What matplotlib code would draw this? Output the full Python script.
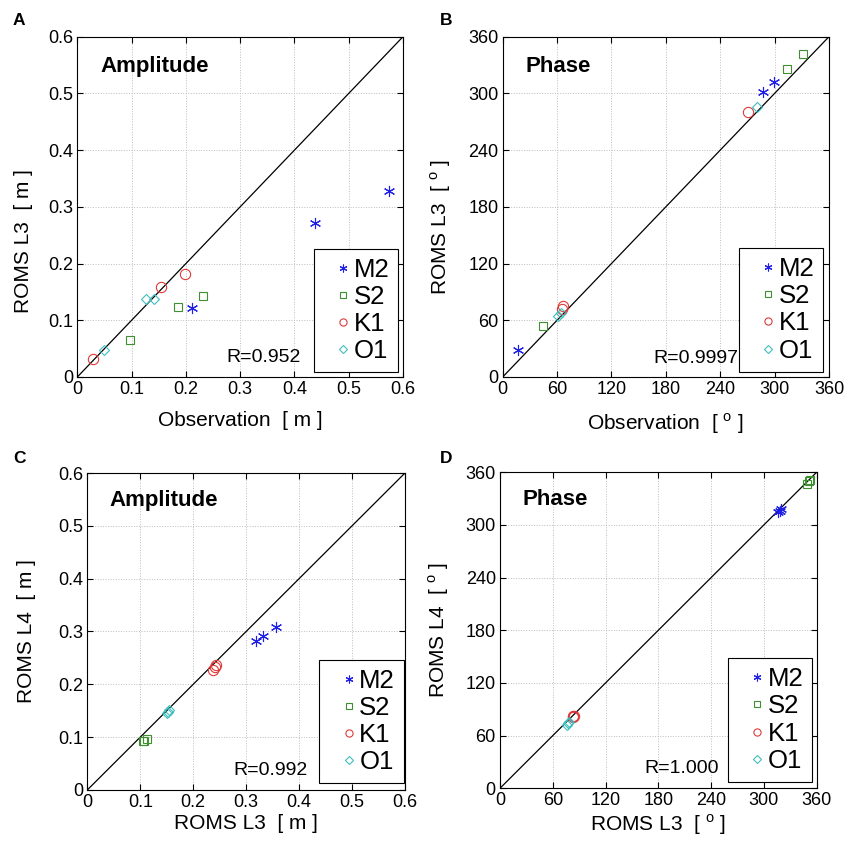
import matplotlib
matplotlib.use("Agg")
import matplotlib.pyplot as plt
from matplotlib.ticker import FixedLocator, FuncFormatter

plt.rcParams['font.family'] = ['Liberation Sans', 'DejaVu Sans']

# constituents and styles
tides = ["M2", "S2", "K1", "O1"]
colors = ["#1f1fe6", "#3d8f2f", "#de3a3a", "#3fbfbf"]
markers = [(6, 2, 0), "s", "o", "D"]
msizes = [8.0, 6.0, 7.4, 5.4]

# Panel A: amplitude, observation vs ROMS L3 [m]
amp_obs = {"M2": [0.574, 0.437, 0.212], "S2": [0.232, 0.185, 0.097],
           "K1": [0.198, 0.154, 0.029], "O1": [0.126, 0.142, 0.049]}
amp_l3a = {"M2": [0.328, 0.272, 0.121], "S2": [0.143, 0.123, 0.065],
           "K1": [0.182, 0.158, 0.032], "O1": [0.138, 0.138, 0.048]}

# Panel B: phase, observation vs ROMS L3 [deg]
pha_obs = {"M2": [299, 287, 17], "S2": [331, 314, 45],
           "K1": [271, 65, 67], "O1": [281, 61, 64]}
pha_l3b = {"M2": [312, 301, 29], "S2": [342, 326, 54],
           "K1": [280, 72, 75], "O1": [286, 64, 68]}

# Panel C: amplitude, ROMS L3 vs ROMS L4 [m]
amp_l3c = {"M2": [0.318, 0.332, 0.356], "S2": [0.105, 0.108, 0.112],
           "K1": [0.237, 0.241, 0.244], "O1": [0.151, 0.155, 0.153]}
amp_l4 = {"M2": [0.282, 0.292, 0.309], "S2": [0.092, 0.093, 0.096],
          "K1": [0.227, 0.232, 0.237], "O1": [0.145, 0.152, 0.148]}

# Panel D: phase, ROMS L3 vs ROMS L4 [deg]
pha_l3d = {"M2": [316, 318, 319], "S2": [349, 351, 352],
           "K1": [83, 83, 84], "O1": [76, 77, 78]}
pha_l4 = {"M2": [315, 316, 318], "S2": [347, 350, 351],
          "K1": [81, 82, 82], "O1": [72, 74, 76]}

amp_ticks = [0, 0.1, 0.2, 0.3, 0.4, 0.5, 0.6]
pha_ticks = [0, 60, 120, 180, 240, 300, 360]

deg = r"[ $^\mathregular{o}$ ]"


def panel(ax, xs, ys, ticks, title, rtext, xlabel, ylabel, rpos, leg_anchor, ylab_xy, xlab_y):
    lim = ticks[-1]
    ax.plot([0, lim], [0, lim], color="black", lw=0.9, zorder=2)
    for t, c, m, ms in zip(tides, colors, markers, msizes):
        ax.plot(xs[t], ys[t], ls="none", marker=m, ms=ms, mfc="none",
                mec=c, mew=0.8, label=t, zorder=3)
    ax.set_xlim(0, lim)
    ax.set_ylim(0, lim)
    fmt = FuncFormatter(lambda v, p: "%g" % v)
    ax.xaxis.set_major_locator(FixedLocator(ticks))
    ax.yaxis.set_major_locator(FixedLocator(ticks))
    ax.xaxis.set_major_formatter(fmt)
    ax.yaxis.set_major_formatter(fmt)
    ax.tick_params(direction="in", length=4, width=0.8, top=True, right=True,
                   labelsize=13, pad=3)
    ax.grid(True, ls=":", color="#bdbdbd", lw=0.7)
    for s in ax.spines.values():
        s.set_linewidth(0.8)
    ax.text(0.071, 0.896, title, transform=ax.transAxes, fontsize=16,
            fontweight="bold", ha="left", va="baseline")
    ax.text(rpos[0], rpos[1], rtext, transform=ax.transAxes, fontsize=14,
            ha="right", va="baseline")
    ax.set_xlabel(xlabel, fontsize=15)
    ax.set_ylabel(ylabel, fontsize=15)
    ax.yaxis.set_label_coords(*ylab_xy)
    ax.xaxis.set_label_coords(0.5, xlab_y)
    leg = ax.legend(loc="lower right", bbox_to_anchor=leg_anchor, fontsize=18.5,
                    markerscale=0.7, handlelength=1.6, handletextpad=-0.4,
                    borderpad=0.35, labelspacing=0.12, borderaxespad=0.0,
                    fancybox=False, framealpha=1, edgecolor="black")
    leg.get_frame().set_linewidth(0.8)


fig = plt.figure(figsize=(8.46, 8.43), dpi=100)

axA = fig.add_axes([0.0914, 0.5528, 0.385, 0.4037])
axB = fig.add_axes([0.5942, 0.5528, 0.3857, 0.4037])
axC = fig.add_axes([0.1032, 0.0629, 0.3755, 0.376])
axD = fig.add_axes([0.5910, 0.0649, 0.3744, 0.375])

panel(axA, amp_obs, amp_l3a, amp_ticks, "Amplitude", "R=0.952",
      "Observation  [ m ]", "ROMS L3  [ m ]", (0.685, 0.045),
      (0.985, 0.015), (-0.136, 0.40), -0.10)
panel(axB, pha_obs, pha_l3b, pha_ticks, "Phase", "R=0.9997",
      "Observation  " + deg, "ROMS L3  " + deg, (0.721, 0.041),
      (0.983, 0.016), (-0.152, 0.44), -0.10)
panel(axC, amp_l3c, amp_l4, amp_ticks, "Amplitude", "R=0.992",
      "ROMS L3  [ m ]", "ROMS L4  [ m ]", (0.692, 0.047),
      (0.997, 0.021), (-0.16, 0.50), -0.075)
panel(axD, pha_l3d, pha_l4, pha_ticks, "Phase", "R=1.000",
      "ROMS L3  " + deg, "ROMS L4  " + deg, (0.692, 0.047),
      (0.986, 0.021), (-0.155, 0.50), -0.075)

for lab, x, y in [("A", 13, 25), ("B", 440, 25), ("C", 13, 463), ("D", 440, 463)]:
    fig.text(x / 846, 1 - y / 843, lab, fontsize=12.5, fontweight="bold",
             ha="left", va="baseline")

fig.savefig("out.png", dpi=100)
